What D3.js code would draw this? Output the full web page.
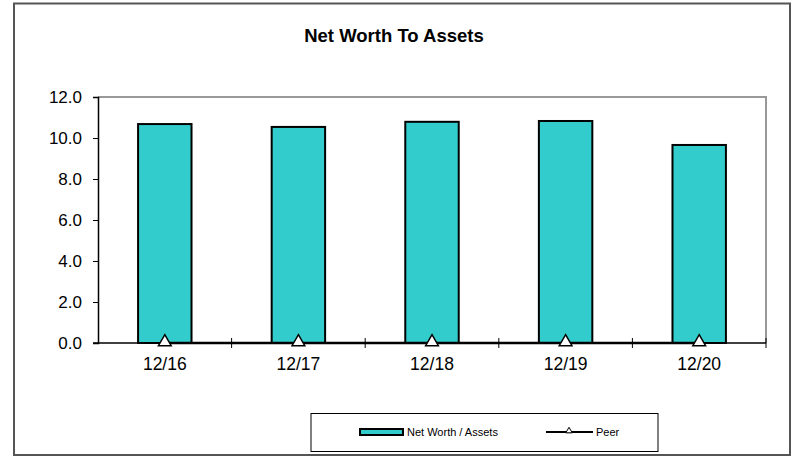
<!DOCTYPE html>
<html><head><meta charset="utf-8">
<script src="https://cdn.jsdelivr.net/npm/d3@7"></script>
<style>body{margin:0;background:#fff;} svg{display:block;font-family:Arial, "Liberation Sans", sans-serif;}</style>
</head><body>
<svg id="c" width="792" height="457"></svg>
<script>
const categories = ["12/16","12/17","12/18","12/19","12/20"];
const netWorth = [10.68, 10.54, 10.79, 10.83, 9.66];
const peer = [0, 0, 0, 0, 0];
const yTicks = [0, 2, 4, 6, 8, 10, 12];

const svg = d3.select("#c");
svg.append("rect").attr("x",14).attr("y",3.5).attr("width",776).attr("height",451.5)
  .attr("fill","#fff").attr("stroke","#555").attr("stroke-width",2);

svg.append("text").attr("x",394).attr("y",42).attr("text-anchor","middle")
  .attr("font-size",18.5).attr("font-weight","bold").text("Net Worth To Assets");

const L=98, R=766, T=97, B=343;
const x = d3.scaleBand().domain(categories).range([L,R]);
const y = d3.scaleLinear().domain([0,12]).range([B,T]);

// plot border top/right gray
svg.append("path").attr("d",`M${L},${T}H${R}V${B}`).attr("fill","none").attr("stroke","#999").attr("stroke-width",2);

// bars
const bw = x.bandwidth()*0.4;
svg.selectAll(".bar").data(netWorth).enter().append("rect")
  .attr("x",(d,i)=>x(categories[i])+x.bandwidth()/2-bw/2)
  .attr("y",d=>y(d)).attr("width",bw).attr("height",d=>B-y(d))
  .attr("fill","#33cccc").attr("stroke","#000").attr("stroke-width",2);

// y axis
const ya = svg.append("g").attr("transform",`translate(${L},0)`)
  .call(d3.axisLeft(y).tickValues(yTicks).tickFormat(d3.format(".1f")).tickSize(5).tickPadding(11));
ya.select(".domain").attr("stroke","#000").attr("stroke-width",1.5);
ya.selectAll("line").attr("stroke","#000");
ya.selectAll("text").attr("font-size",17).attr("fill","#000").attr("font-family","Arial, 'Liberation Sans', sans-serif");

// x axis
const xa = svg.append("g").attr("transform",`translate(0,${B})`)
  .call(d3.axisBottom(x).tickSize(0).tickPadding(15));
xa.select(".domain").remove();
xa.selectAll("text").attr("font-size",17.5).attr("fill","#000").attr("font-family","Arial, 'Liberation Sans', sans-serif");
// category separator ticks
const seps = categories.slice(1).map(c=>x(c)).concat([R]);
svg.selectAll(".sep").data(seps).enter().append("line")
  .attr("x1",d=>d).attr("x2",d=>d).attr("y1",B-5).attr("y2",B+5).attr("stroke","#000").attr("stroke-width",1);
svg.append("line").attr("x1",L-5).attr("x2",R).attr("y1",B).attr("y2",B).attr("stroke","#000").attr("stroke-width",1.5);

// peer line
const line = d3.line().x((d,i)=>x(categories[i])+x.bandwidth()/2).y(d=>y(d));
svg.append("path").datum(peer).attr("d",line).attr("fill","none").attr("stroke","#000").attr("stroke-width",2.5);
const tri = d3.symbol().type(d3.symbolTriangle).size(70);
svg.selectAll(".pt").data(peer).enter().append("path")
  .attr("d",tri).attr("transform",(d,i)=>`translate(${x(categories[i])+x.bandwidth()/2},${y(d)-1})`)
  .attr("fill","#fff").attr("stroke","#000").attr("stroke-width",1.5);

// legend
svg.append("rect").attr("x",311).attr("y",413.5).attr("width",347).attr("height",38)
  .attr("fill","#fff").attr("stroke","#000").attr("stroke-width",1);
svg.append("rect").attr("x",360).attr("y",429).attr("width",43).attr("height",6)
  .attr("fill","#33cccc").attr("stroke","#000").attr("stroke-width",2);
svg.append("text").attr("x",407).attr("y",436).attr("font-size",11).text("Net Worth / Assets");
svg.append("line").attr("x1",546).attr("x2",593).attr("y1",432).attr("y2",432).attr("stroke","#000").attr("stroke-width",2);
svg.append("path").attr("d",d3.symbol().type(d3.symbolTriangle).size(18)).attr("transform","translate(569,431)")
  .attr("fill","#fff").attr("stroke","#000").attr("stroke-width",1);
svg.append("text").attr("x",596).attr("y",436).attr("font-size",11).text("Peer");
</script>
</body></html>
